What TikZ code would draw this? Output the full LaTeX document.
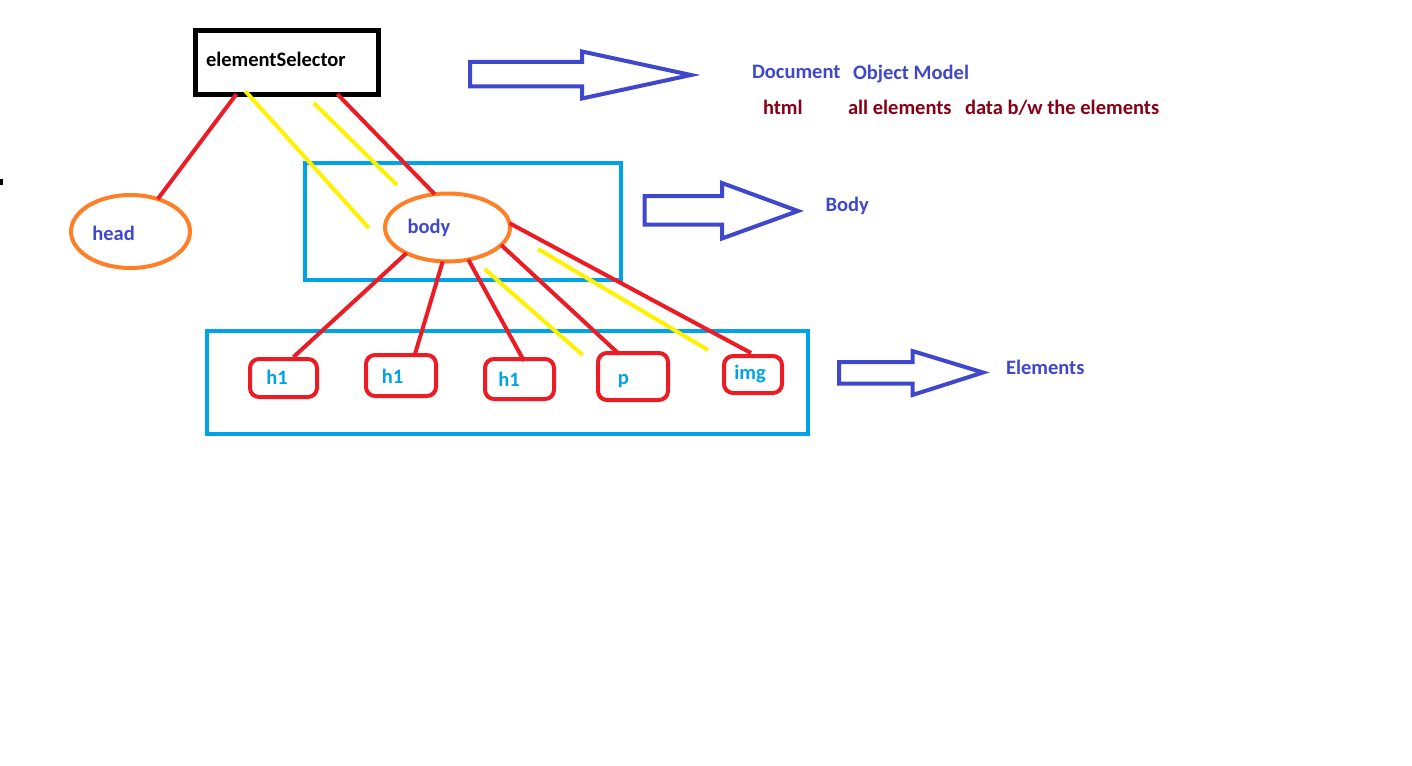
\documentclass[tikz,border=0pt]{standalone}
\usepackage{fontspec}
\setmainfont{Carlito}
\usetikzlibrary{shapes.geometric,calc}
\definecolor{pblue}{HTML}{3F48CC}
\definecolor{pdred}{HTML}{880015}
\definecolor{pcyan}{HTML}{00A2E8}
\definecolor{pred}{HTML}{ED1C24}
\definecolor{porange}{HTML}{FF7F27}
\definecolor{pyellow}{HTML}{FFF200}
\tikzset{
  txt/.style={inner sep=0pt, outer sep=0pt, anchor=base west, font=\fontsize{20.5}{24}\selectfont\bfseries},
  esbox/.style={draw=black, line width=5pt, rectangle, inner sep=0pt, outer sep=0pt, minimum width=183pt, minimum height=63.4pt},
  oval/.style={draw=porange, line width=4pt, ellipse, inner sep=0pt, outer sep=0pt},
  group/.style={draw=pcyan, line width=4pt, rectangle, inner sep=0pt, outer sep=0pt},
  elbox/.style={draw=pred, line width=4pt, rectangle, rounded corners=9pt, inner sep=0pt, outer sep=0pt},
  redline/.style={draw=pred, line width=4pt},
  yelline/.style={draw=pyellow, line width=4pt},
  blockarrow/.style={draw=pblue, line width=4pt, line join=miter},
}
\begin{document}
\begin{tikzpicture}[x=1pt,y=-1pt]
\useasboundingbox[fill=white] (0,0) rectangle (1412,765);
\fill[black] (0,179) rectangle (3,185);

% main shapes
\node[esbox] (es) at (286.9,62.5) {};
\node[oval, minimum width=119pt, minimum height=73pt] (head) at (130.5,231.5) {};
\node[group, minimum width=316pt, minimum height=117pt] (bodygrp) at (463,221.5) {};
\node[oval, minimum width=125pt, minimum height=68pt] (bodyel) at (447.5,227.5) {};
\node[group, minimum width=601.5pt, minimum height=102.7pt] (elgrp) at (507.7,382.3) {};

\node[elbox, minimum width=67pt, minimum height=38pt] (h1a) at (283.5,378) {};
\node[elbox, minimum width=70pt, minimum height=41pt] (h1b) at (401,375.5) {};
\node[elbox, minimum width=69pt, minimum height=40pt] (h1c) at (519.5,379) {};
\node[elbox, minimum width=70pt, minimum height=47pt] (pp) at (633,376.5) {};
\node[elbox, minimum width=58pt, minimum height=37pt] (img) at (753,374.5) {};

% texts
\node[txt, text=black] (estxt) at (206,67) {elementSelector};
\node[txt, text=pblue] (headtxt) at (92.4,240) {head};
\node[txt, text=pblue] (bodytxt) at (407.6,233) {body};
\node[txt, text=pcyan] (h1atxt) at (266.4,384.5) {h1};
\node[txt, text=pcyan] (h1btxt) at (381.8,383) {h1};
\node[txt, text=pcyan] (h1ctxt) at (498.4,386) {h1};
\node[txt, text=pcyan] (ptxt) at (617.8,384.5) {p};
\node[txt, text=pcyan] (imgtxt) at (734.4,379.5) {img};

\node[txt, text=pblue] (doc) at (752,78.5) {Document};
\node[txt, text=pblue] (om) at (853,79.5) {Object Model};
\node[txt, text=pdred] (html) at (763,114) {html};
\node[txt, text=pdred] (allel) at (848,114) {all elements};
\node[txt, text=pdred] (data) at (965,114) {data b/w the elements};
\node[txt, text=pblue] (bodylbl) at (825.6,211) {Body};
\node[txt, text=pblue] (ellbl) at (1006,374) {Elements};

% block arrows
\draw[blockarrow] (470,62) -- (582,62) -- (582,51.5) -- (691,75) -- (582,98.5) -- (582,86.5) -- (470,86.5) -- cycle;
\draw[blockarrow] (644.5,196) -- (722,196) -- (722,183) -- (798,211) -- (722,238.5) -- (722,224.5) -- (644.5,224.5) -- cycle;
\draw[blockarrow] (839,362) -- (912.5,362) -- (912.5,351) -- (983,372.5) -- (912.5,395) -- (912.5,383.5) -- (839,383.5) -- cycle;

% red tree connectors
\draw[redline] ($(es.south west)+(41,0)$) -- (head.50);
\draw[redline] ($(es.south west)+(142,0)$) -- (bodyel.111);
\draw[redline] (bodyel.212) -- ($(h1a.north)+(10,-2)$);
\draw[redline] (bodyel.262.5) -- ($(h1b.north)+(14,-1)$);
\draw[redline] (bodyel.303) -- ($(h1c.north)+(4.5,2)$);
\draw[redline] (bodyel.342.5) -- ($(pp.north)+(-14,1)$);
\draw[redline] (bodyel.4) -- ($(img.north)+(-2,-3)$);

% yellow marks
\coordinate (y1a) at ($(es.south west)+(50,-3)$);
\coordinate (y1b) at (368.8,228);
\coordinate (y2a) at (313.8,103);
\coordinate (y2b) at (397,185);
\coordinate (y3a) at (484.6,269);
\coordinate (y3b) at (582.6,355);
\coordinate (y4a) at (538,249);
\coordinate (y4b) at (708,350);
\draw[yelline] (y1a) -- (y1b);
\draw[yelline] (y2a) -- (y2b);
\draw[yelline] (y3a) -- (y3b);
\draw[yelline] (y4a) -- (y4b);
\end{tikzpicture}
\end{document}
